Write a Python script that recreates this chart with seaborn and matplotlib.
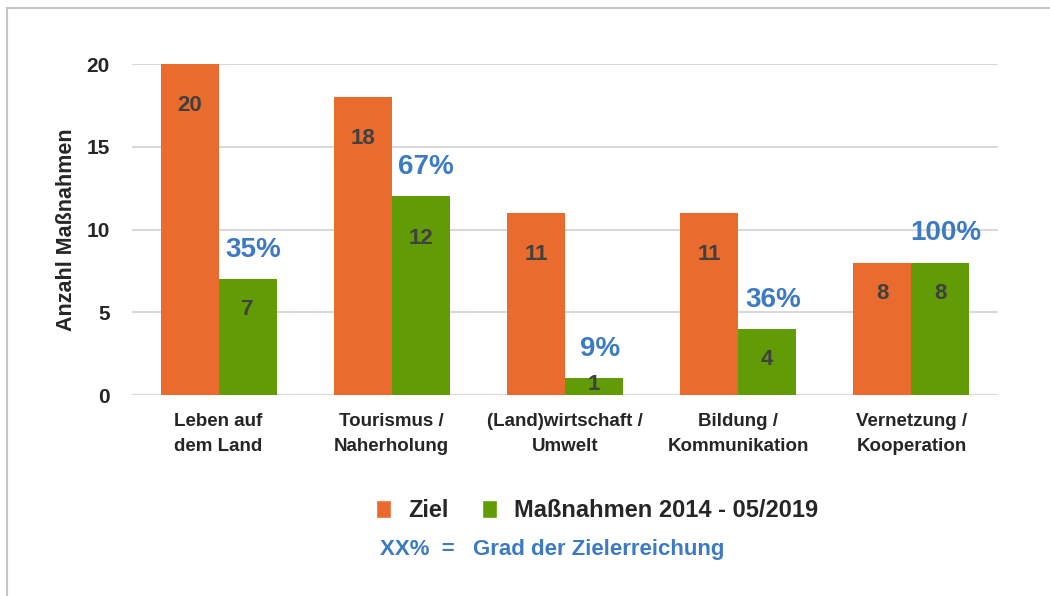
import matplotlib
matplotlib.use('Agg')
import matplotlib.pyplot as plt
from matplotlib.patches import Patch, Rectangle
import seaborn as sns
import pandas as pd

# 데이터
kategorien = ['Leben auf\ndem Land', 'Tourismus /\nNaherholung', '(Land)wirtschaft /\nUmwelt',
              'Bildung /\nKommunikation', 'Vernetzung /\nKooperation']
ziel = [20, 18, 11, 11, 8]
massnahmen = [7, 12, 1, 4, 8]
grad = ['35%', '67%', '9%', '36%', '100%']
serien = ['Ziel', 'Maßnahmen 2014 - 05/2019']
y_ticks = [0, 5, 10, 15, 20]

orange = '#E96C2E'
gruen = '#619B05'
blau = '#3C7BC4'
text_grau = '#404040'

sns.set_theme(style='white')
plt.rcParams['font.family'] = ['Liberation Sans', 'DejaVu Sans']

df = pd.DataFrame({
    'kategorie': kategorien * 2,
    'serie': [serien[0]] * len(kategorien) + [serien[1]] * len(kategorien),
    'wert': ziel + massnahmen,
})

fig = plt.figure(figsize=(10.5, 5.96), dpi=100)
ax = fig.add_axes([0.1257, 0.3372, 0.8248, 0.5554])

sns.barplot(data=df, x='kategorie', y='wert', hue='serie', palette=[orange, gruen],
            width=0.67, gap=0, saturation=1, linewidth=0, legend=False, ax=ax)

ax.set_ylim(0, 20)
ax.set_xlim(-0.5, len(kategorien) - 0.5)
ax.set_yticks(y_ticks)
ax.yaxis.grid(True, color='#D9D9D9', linewidth=1.5)
ax.set_axisbelow(True)
for s in ax.spines.values():
    s.set_visible(False)
ax.tick_params(axis='both', length=0)
ax.tick_params(axis='y', labelsize=15, pad=16)
ax.tick_params(axis='x', labelsize=13.5, pad=13)
for t in ax.get_yticklabels():
    t.set_fontweight('bold')
for t in ax.get_xticklabels():
    t.set_fontweight('bold')
    t.set_linespacing(1.6)
ax.set_xlabel('')
ax.set_ylabel('Anzahl Maßnahmen', fontsize=15.5, fontweight='bold', labelpad=7)

# Werte in den Balken
for bar in ax.patches[:2 * len(kategorien)]:
    h = bar.get_height()
    x = bar.get_x() + bar.get_width() / 2
    if h < 2:
        ax.text(x, h / 2 + 0.15, f'{int(h)}', ha='center', va='center',
                fontsize=16, fontweight='bold', color=text_grau)
    else:
        off = -30 if h >= 10 else -22
        ax.annotate(f'{int(h)}', (x, h), xytext=(0, off), textcoords='offset points',
                    ha='center', va='center', fontsize=16, fontweight='bold', color=text_grau)

# Zielerreichung über grünen Balken
for i, bar in enumerate(ax.patches[len(kategorien):2 * len(kategorien)]):
    x = bar.get_x() + bar.get_width() / 2
    ax.annotate(grad[i], (x, bar.get_height()), xytext=(4, 21), textcoords='offset points',
                ha='center', va='center', fontsize=20, fontweight='bold', color=blau)

# Legende
handles = [Patch(facecolor=orange, label=serien[0]), Patch(facecolor=gruen, label=serien[1])]
fig.legend(handles=handles, loc='center left', bbox_to_anchor=(0.338, 0.143), ncol=2,
           frameon=False, prop={'size': 17, 'weight': 'bold'},
           handlelength=0.62, handleheight=0.8, handletextpad=0.72, columnspacing=1.45)
fig.text(0.362, 0.078, 'XX%  =   Grad der Zielerreichung', color=blau,
         fontsize=16, fontweight='bold', va='center', ha='left')

# Rahmen
fig.add_artist(Rectangle((7 / 1050, -0.1), 1.2, 1.1 - 8 / 596, transform=fig.transFigure,
                         fill=False, edgecolor='#C4C4C4', linewidth=1.5))

fig.savefig('out.png', dpi=100)
